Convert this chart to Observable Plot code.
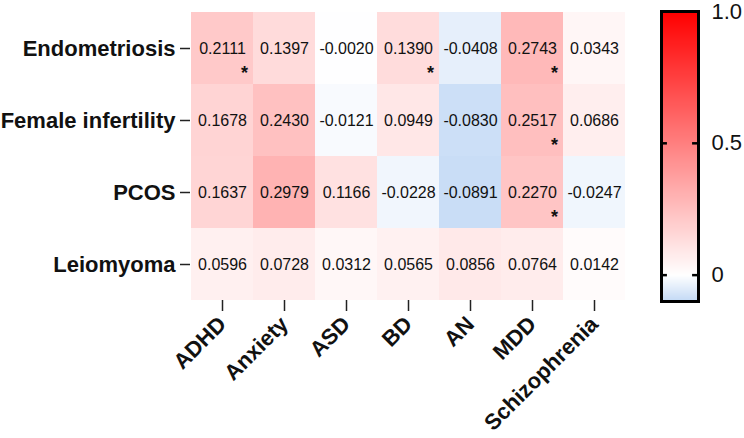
<!DOCTYPE html>
<html>
<head>
<meta charset="utf-8">
<script src="https://cdn.jsdelivr.net/npm/d3@7"></script>
<script src="https://cdn.jsdelivr.net/npm/@observablehq/plot@0.6"></script>
<style>
  html, body { margin: 0; padding: 0; background: #fff; }
  #chart { position: relative; width: 744px; height: 438px; font-family: "Liberation Sans", Arial, sans-serif; }
  #chart > svg { position: absolute; top: 0; }
</style>
</head>
<body>
<div id="chart"></div>
<script>
// Genetic correlations between female reproductive conditions and psychiatric disorders
const disorders = ["ADHD", "Anxiety", "ASD", "BD", "AN", "MDD", "Schizophrenia"];
const conditions = ["Endometriosis", "Female infertility", "PCOS", "Leiomyoma"];

const endometriosis     = [0.2111, 0.1397, -0.0020, 0.1390, -0.0408, 0.2743, 0.0343];
const femaleInfertility = [0.1678, 0.2430, -0.0121, 0.0949, -0.0830, 0.2517, 0.0686];
const pcos              = [0.1637, 0.2979, 0.1166, -0.0228, -0.0891, 0.2270, -0.0247];
const leiomyoma         = [0.0596, 0.0728, 0.0312, 0.0565, 0.0856, 0.0764, 0.0142];

// 1 marks a significant correlation (starred)
const sigEndometriosis     = [1, 0, 0, 1, 0, 1, 0];
const sigFemaleInfertility = [0, 0, 0, 0, 0, 1, 0];
const sigPcos              = [0, 0, 0, 0, 0, 1, 0];
const sigLeiomyoma         = [0, 0, 0, 0, 0, 0, 0];

// colour bar
const colorDomain = [-0.1, 0, 1];
const colorRange = ["#c2d9f5", "#ffffff", "#ff0000"];
const barTicks = [0, 0.5, 1.0];
const barTickLabels = ["0", "0.5", "1.0"];

const rows = [endometriosis, femaleInfertility, pcos, leiomyoma];
const sigs = [sigEndometriosis, sigFemaleInfertility, sigPcos, sigLeiomyoma];
const table = conditions.flatMap((c, i) =>
  disorders.map((d, j) => ({condition: c, disorder: d, rg: rows[i][j], sig: sigs[i][j] === 1}))
);

const font = "'Liberation Sans', Arial, sans-serif";
const color = {type: "linear", domain: colorDomain, range: colorRange, interpolate: "rgb"};

const heat = Plot.plot({
  width: 640,
  height: 438,
  marginLeft: 190,
  marginRight: 15,
  marginTop: 11,
  marginBottom: 138,
  style: {fontFamily: font, background: "transparent"},
  x: {domain: disorders, padding: 0},
  y: {domain: conditions, padding: 0},
  color,
  marks: [
    Plot.cell(table, {x: "disorder", y: "condition", fill: "rg", inset: 0}),
    Plot.text(table, {x: "disorder", y: "condition", text: d => d.rg.toFixed(4), fontSize: 16, fill: "#111"}),
    Plot.text(table.filter(d => d.sig), {x: "disorder", y: "condition", text: () => "*", fontSize: 18, fontWeight: "bold", fill: "#111", dx: 22, dy: 25}),
    Plot.axisY({tickSize: 10, tickPadding: 5, fontSize: 22, fontWeight: "bold", stroke: "#222", strokeWidth: 1.5, fill: "#111", label: null}),
    Plot.axisX({tickSize: 11, tickPadding: 9, tickRotate: -45, fontSize: 22, fontWeight: "bold", stroke: "#222", strokeWidth: 1.5, fill: "#111", label: null})
  ]
});
heat.style.left = "0px";

const bar = Plot.plot({
  width: 104,
  height: 312,
  marginLeft: 21,
  marginRight: 46,
  marginTop: 11,
  marginBottom: 11,
  style: {fontFamily: font, background: "transparent"},
  x: {domain: [0, 1], axis: null},
  y: {domain: [colorDomain[0], colorDomain[2]], axis: null},
  color,
  marks: [
    Plot.raster({x1: 0, x2: 1, y1: colorDomain[0], y2: colorDomain[2], width: 2, height: 290, fill: (x, y) => y, imageRendering: "auto"}),
    Plot.ruleY(barTicks.slice(0, 2), {x1: 0, x2: 0.16, stroke: "#000", strokeWidth: 2.5}),
    Plot.ruleY(barTicks.slice(0, 2), {x1: 0.84, x2: 1, stroke: "#000", strokeWidth: 2.5}),
    Plot.frame({stroke: "#000", strokeWidth: 3}),
    Plot.text(barTicks, {x: 1, y: d => d, text: (d, i) => barTickLabels[i], textAnchor: "start", dx: 13, fontSize: 22, fill: "#111"})
  ]
});
bar.style.left = "640px";

document.getElementById("chart").append(heat, bar);
</script>
</body>
</html>
